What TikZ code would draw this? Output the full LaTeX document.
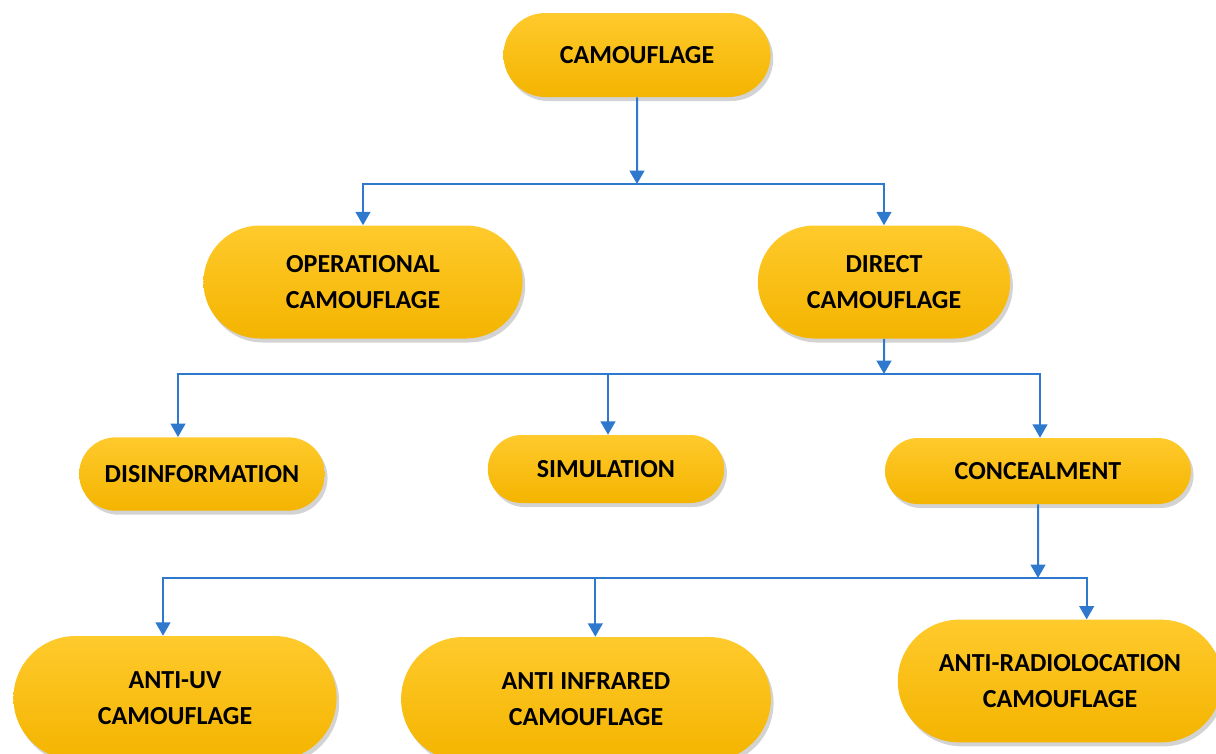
\documentclass[tikz,border=0pt]{standalone}
\usepackage{fontspec}
\setmainfont{Carlito}
\usetikzlibrary{arrows.meta,shapes.misc,shadows}
\definecolor{boxtop}{HTML}{FFCA2C}
\definecolor{boxbot}{HTML}{F4B400}
\definecolor{linkblue}{HTML}{2E78CE}

\begin{document}
\begin{tikzpicture}[
    x=0.75pt, y=-0.75pt,
    >={Triangle[length=10pt,width=11pt]},
    camobox/.style={rounded rectangle, draw=none, align=center,
        top color=boxtop, bottom color=boxbot,
        font=\bfseries\fontsize{19.5}{26}\selectfont,
        drop shadow={shadow xshift=2pt, shadow yshift=-3pt, opacity=0.35}},
    link/.style={linkblue, line width=1.5pt}
]
\clip (0,0) rectangle (1216,753);

% Top
\node[camobox, minimum width=207pt, minimum height=63pt] (camo) at (637,55) {CAMOUFLAGE};

% Second level
\node[camobox, minimum width=246pt, minimum height=84.75pt] (oper) at (363,282)
    {OPERATIONAL\\[1pt]CAMOUFLAGE};
\node[camobox, minimum width=196pt, minimum height=84.75pt] (direct) at (884,282)
    {DIRECT\\[1pt]CAMOUFLAGE};

% Third level
\node[camobox, minimum width=191pt, minimum height=55pt] (disinf) at (202,474) {DISINFORMATION};
\node[camobox, minimum width=184pt, minimum height=51pt] (simul) at (606,469) {SIMULATION};
\node[camobox, minimum width=236pt, minimum height=49.5pt] (conceal) at (1038,471) {CONCEALMENT};

% Fourth level
\node[camobox, minimum width=249pt, minimum height=93pt] (antiuv) at (175,698)
    {ANTI-UV\\[1pt]CAMOUFLAGE};
\node[camobox, minimum width=284pt, minimum height=93pt] (antiir) at (586,699)
    {ANTI INFRARED\\[1pt]CAMOUFLAGE};
\node[camobox, minimum width=250pt, minimum height=92pt] (antiradio) at (1060,681)
    {ANTI-RADIOLOCATION\\[1pt]CAMOUFLAGE};

% Junctions
\coordinate (j1) at (637,184);
\coordinate (j2) at (884,374);
\coordinate (j3) at (1038,578);

% Connectors
\draw[link,->] (camo) -- (j1);
\draw[link,->] (j1) -| (oper.north);
\draw[link,->] (j1) -| (direct.north);

\draw[link,->] (direct) -- (j2);
\draw[link,->] (j2) -| ([xshift=-18pt]disinf.north);
\draw[link,->] (j2) -| ([xshift=1.5pt]simul.north);
\draw[link,->] (j2) -| ([xshift=1.5pt]conceal.north);

\draw[link,->] (conceal) -- (j3);
\draw[link,->] (j3) -| ([xshift=-9pt]antiuv.north);
\draw[link,->] (j3) -| ([xshift=7pt]antiir.north);
\draw[link,->] (j3) -| ([xshift=20pt]antiradio.north);
\end{tikzpicture}
\end{document}
